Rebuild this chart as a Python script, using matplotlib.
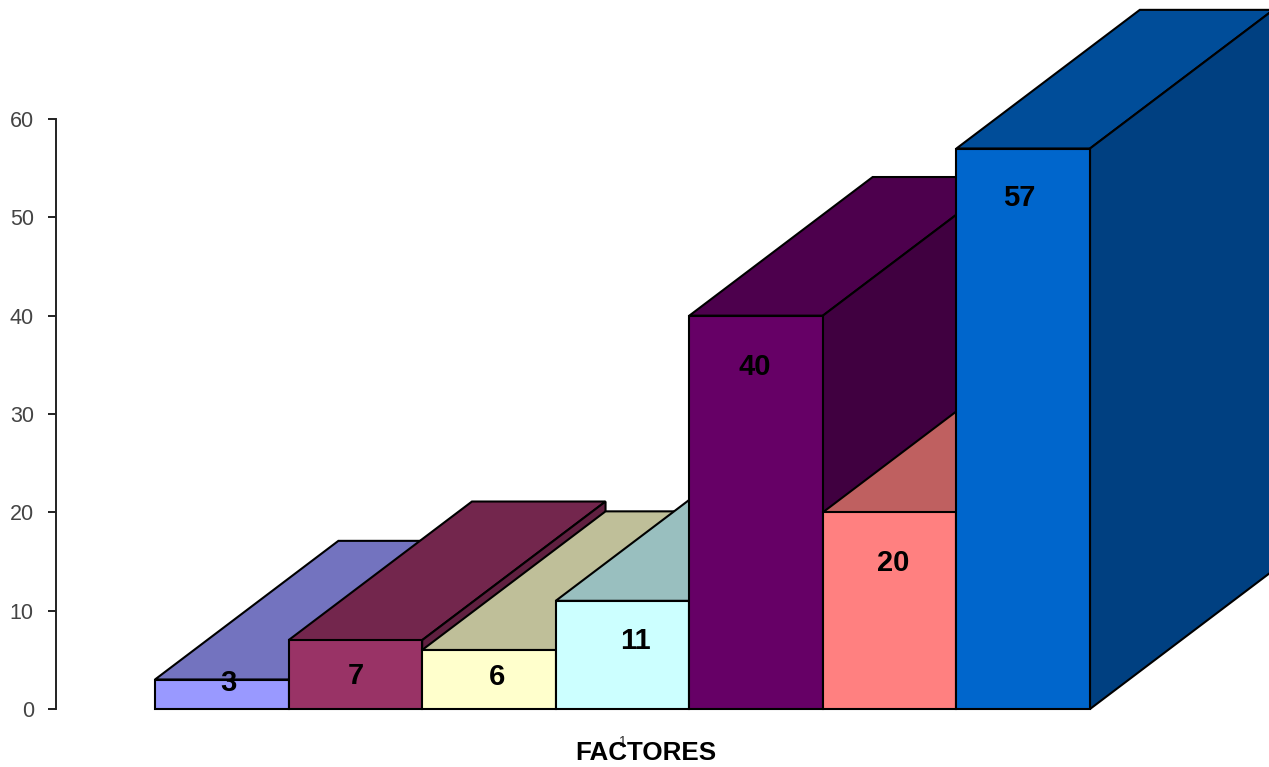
import matplotlib
matplotlib.use("Agg")
import matplotlib.pyplot as plt
from matplotlib.colors import to_rgb
from matplotlib.patches import Polygon

plt.rcParams["font.family"] = ["Liberation Sans", "DejaVu Sans"]

values = [3, 7, 6, 11, 40, 20, 57]
front_colors = ["#9999FF", "#993366", "#FFFFCC", "#CCFFFF", "#660066", "#FF8080", "#0066CC"]
y_ticks = [0, 10, 20, 30, 40, 50, 60]
category_label = "1"
axis_title = "FACTORES"

# Oblique projection of the bar depth, in axis units
DEPTH_X = 1.373
DEPTH_Y = 14.1
TOP_SHADE = 0.75
SIDE_SHADE = 0.63
EDGE = dict(edgecolor="black", linewidth=1.5, joinstyle="miter", clip_on=False)

W, H = 1269, 767
fig = plt.figure(figsize=(W / 100, H / 100), dpi=100, facecolor="white")
ax = fig.add_axes([56 / W, 1 - 709 / H, (1090 - 56) / W, (709 - 119) / H])
ax.set_xlim(-99 / 133.57, len(values))
ax.set_ylim(0, 60)
ax.patch.set_visible(False)


def shade(color, factor):
    return tuple(c * factor for c in to_rgb(color))


# Painted left to right so each bar covers the depth of the one before it
for i, (value, color) in enumerate(zip(values, front_colors)):
    left, right = i, i + 1
    ax.add_patch(Polygon(
        [(left, value), (right, value),
         (right + DEPTH_X, value + DEPTH_Y), (left + DEPTH_X, value + DEPTH_Y)],
        facecolor=shade(color, TOP_SHADE), zorder=2 + i, **EDGE))
    ax.add_patch(Polygon(
        [(right, 0), (right + DEPTH_X, DEPTH_Y),
         (right + DEPTH_X, value + DEPTH_Y), (right, value)],
        facecolor=shade(color, SIDE_SHADE), zorder=2 + i, **EDGE))
    ax.add_patch(Polygon(
        [(left, 0), (right, 0), (right, value), (left, value)],
        facecolor=color, zorder=2 + i, **EDGE))

# Value labels: horizontal place within the bar and drop below its top edge
label_x = [0.55, 0.50, 0.56, 0.60, 0.49, 0.53, 0.47]
label_drop = [0.36, 3.6, 2.75, 4.1, 5.2, 5.2, 5.0]
for i, value in enumerate(values):
    ax.text(i + label_x[i], value - label_drop[i], str(value),
            ha="center", va="center", fontsize=21, fontweight="bold",
            color="black", zorder=20)

for side in ("top", "right", "bottom"):
    ax.spines[side].set_visible(False)
ax.spines["left"].set_linewidth(1.4)
ax.spines["left"].set_color("#222222")
ax.set_yticks(y_ticks)
ax.tick_params(axis="y", length=6, width=1.4, color="#222222", labelsize=15.5,
               labelcolor="#444444", pad=10)
ax.set_xticks([len(values) / 2])
ax.set_xticklabels([category_label], fontsize=10, color="#333333")
ax.tick_params(axis="x", length=0, pad=19)

fig.text(646 / W, 1 - 753 / H, axis_title, ha="center", va="center",
         fontsize=18.7, fontweight="bold", color="black")

fig.savefig("out.png", dpi=100)
